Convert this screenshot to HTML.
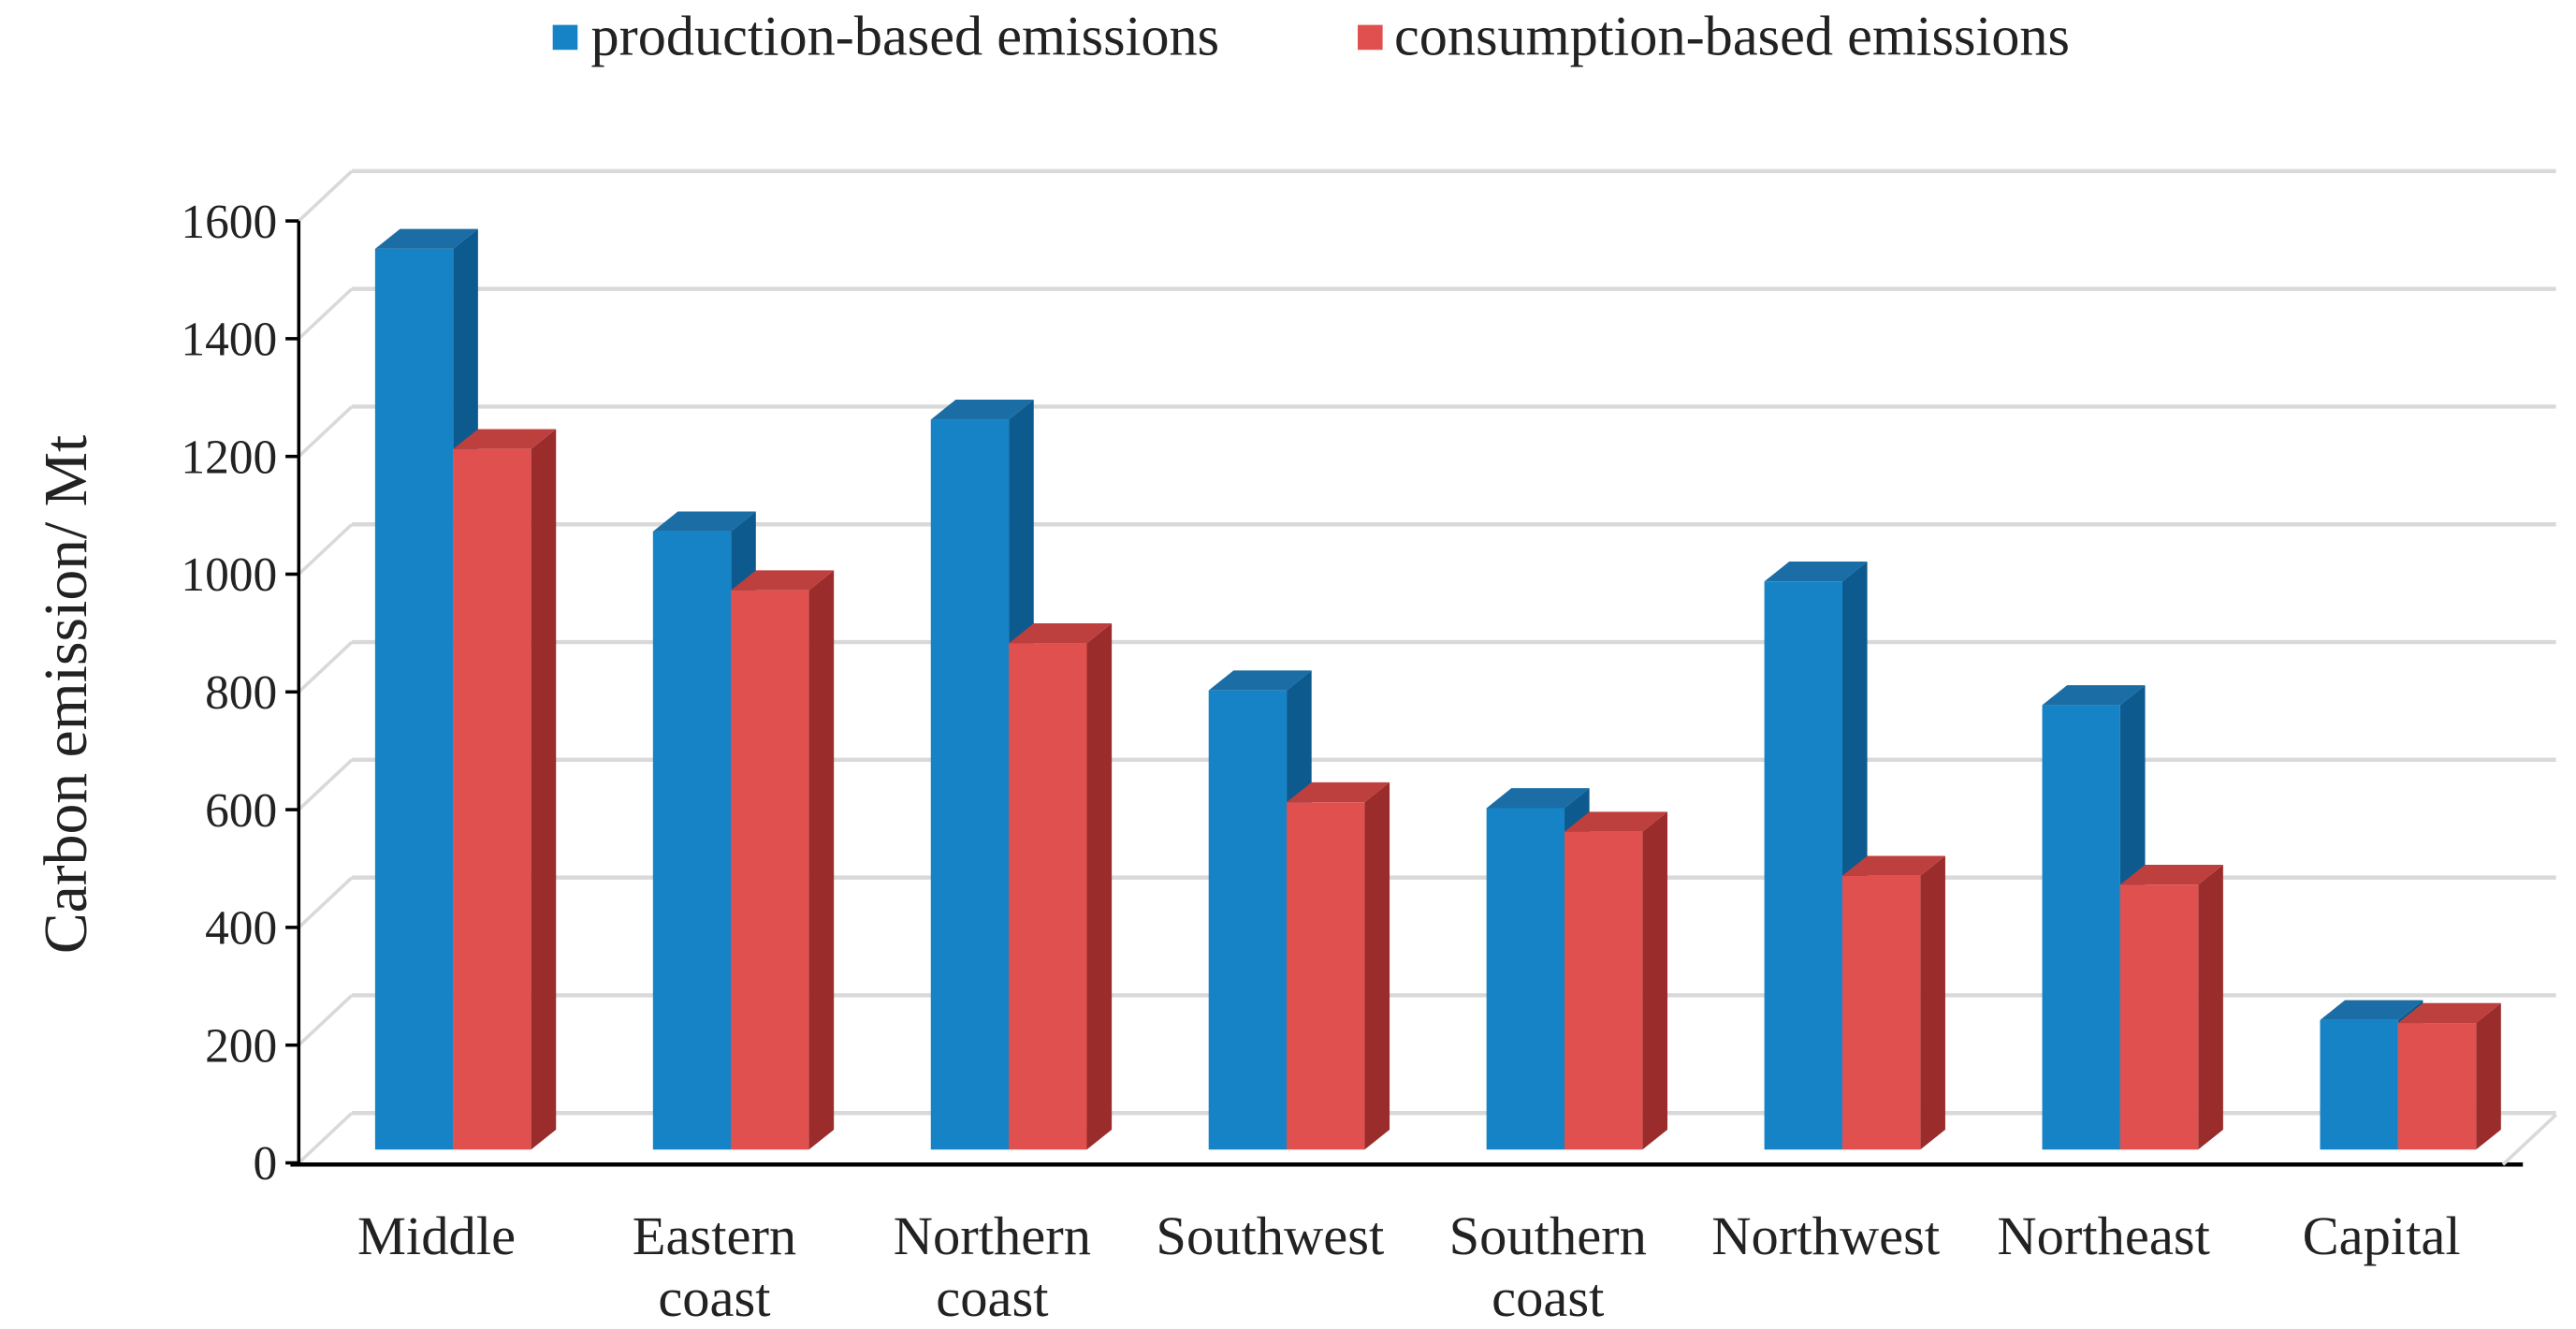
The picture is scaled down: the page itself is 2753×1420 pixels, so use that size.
<!DOCTYPE html>
<html><head><meta charset="utf-8"><style>
html,body{margin:0;padding:0;background:#fff;}
svg{display:block;font-family:"Liberation Serif",serif;}
</style></head><body>
<svg id="chart" width="2753" height="1420" viewBox="0 0 1552 800" preserveAspectRatio="none" xmlns="http://www.w3.org/2000/svg">
<g>
<rect x="333" y="15" width="15" height="15" fill="#1583C6"/>
<text x="356" y="33" font-size="34" fill="#222">production-based emissions</text>
<rect x="818" y="15" width="15" height="15" fill="#E0504E"/>
<text x="840" y="33" font-size="34" fill="#222">consumption-based emissions</text>
</g>
<text transform="translate(52,418) rotate(-90)" text-anchor="middle" font-size="37" fill="#222">Carbon emission/ Mt</text>
<g id="grid"></g>
<g id="bars"></g>
<g id="labels"></g>
</svg>
<script>
const categories=[["Middle"],["Eastern","coast"],["Northern","coast"],["Southwest"],["Southern","coast"],["Northwest"],["Northeast"],["Capital"]];
const production=[1530,1050,1240,780,580,965,755,220];
const consumption=[1190,950,860,590,540,465,450,215];
const ticks=[0,200,400,600,800,1000,1200,1400,1600];
const NS="http://www.w3.org/2000/svg";
function mk(tag,attrs,parent){const e=document.createElementNS(NS,tag);for(const k in attrs)e.setAttribute(k,attrs[k]);parent.appendChild(e);return e;}
const yAxis=v=>700-v*(567/1600);
const barY=v=>692-v*(567/1600);
const xGroup=i=>226+i*167.4;
const grid=document.getElementById('grid'),bars=document.getElementById('bars'),labels=document.getElementById('labels');
const DX=32,DY=-30;
ticks.forEach(t=>{
  const y=yAxis(t);
  let l=mk('line',{x1:180+DX,y1:y+DY,x2:1540,y2:y+DY,stroke:'#d9d9d9','stroke-width':2.5},grid);
  
  let d=mk('line',{x1:180,y1:y,x2:180+DX,y2:y+DY,stroke:'#d9d9d9','stroke-width':2},grid);
  
  let tk=mk('line',{x1:172,y1:y,x2:180,y2:y,stroke:'#000','stroke-width':2},grid);
  
  let tx=mk('text',{x:167,y:y+10,'text-anchor':'end','font-size':29,fill:'#222'},grid);
  tx.textContent=t;
  
});
let ya=mk('line',{x1:180,y1:133,x2:180,y2:700,stroke:'#000','stroke-width':2},grid);

let xa=mk('line',{x1:175,y1:701,x2:1520,y2:701,stroke:'#000','stroke-width':2.5},grid);

let fr=mk('line',{x1:1508,y1:701,x2:1540,y2:671,stroke:'#d9d9d9','stroke-width':2},grid);

function bar(x,v,front,side,top,name){
  const w=47,dx=15,dy=-12,y=barY(v),b=692;
  const g=mk('g',{},bars);
  
  mk('polygon',{points:`${x+w},${y} ${x+w+dx},${y+dy} ${x+w+dx},${b+dy} ${x+w},${b}`,fill:side},g);
  mk('polygon',{points:`${x},${y} ${x+dx},${y+dy} ${x+w+dx},${y+dy} ${x+w},${y}`,fill:top},g);
  mk('rect',{x:x,y:y,width:w,height:b-y,fill:front},g);
}
categories.forEach((c,i)=>{
  const x=xGroup(i);
  bar(x,production[i],'#1583C6','#0C5A8E','#1B6DA5','bar-production-'+i);
  bar(x+47,consumption[i],'#E0504E','#9A2C2B','#BD403E','bar-consumption-'+i);
  c.forEach((s,j)=>{
    const t=mk('text',{x:x+37,y:755+j*37,'text-anchor':'middle','font-size':33,fill:'#222'},labels);
    t.textContent=s;
    
  });
});
</script>
</body></html>
